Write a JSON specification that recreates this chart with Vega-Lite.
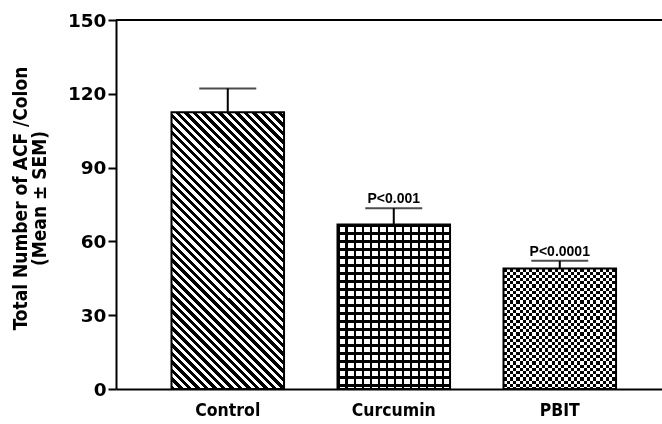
{
"$schema":"https://vega.github.io/schema/vega-lite/v6.json",
"width":546,"height":369,
"autosize":"none",
"padding":{"left":116,"top":20,"right":0,"bottom":35},
"background":"white",
"config":{"view":{"stroke":null}},
"data":{"values":[
{"group":"Control","mean":112.5,"upper":122.2,"p":""},
{"group":"Curcumin","mean":66.9,"upper":73.5,"p":"P<0.001"},
{"group":"PBIT","mean":49,"upper":52.1,"p":"P<0.0001"}
]},
"encoding":{
"y":{"field":"mean","type":"quantitative","scale":{"domain":[0,150],"nice":false},
"axis":{"values":[0,30,60,90,120,150],"title":["Total Number of ACF /Colon","(Mean ± SEM)"],"grid":false,"domainColor":"#000","domainWidth":2,"tickColor":"#000","tickWidth":2,"tickSize":8,"labelFont":"DejaVu Sans","labelFontWeight":"bold","labelFontSize":18.5,"labelColor":"#000","labelPadding":2,"titleFont":"DejaVu Sans Condensed","titleFontWeight":"bold","titleFontSize":19,"titleColor":"#000","titleLineHeight":19,"titleX":-86,"titleY":178}}
},
"layer":[
{
"encoding":{
"x":{"field":"group","type":"nominal","sort":null,"scale":{"paddingInner":0.322,"paddingOuter":0.3055,"align":0.547},
"axis":{"title":null,"labelAngle":0,"ticks":false,"domainColor":"#000","domainWidth":2,"labelFont":"DejaVu Sans Condensed","labelFontWeight":"bold","labelFontSize":17.5,"labelColor":"#000","labelPadding":12}}
},
"layer":[
{"transform":[{"filter":"datum.group==='Control'"}],
"mark":{"type":"bar","stroke":null,"fill":{"gradient":"linear","x1":0,"y1":1,"x2":0.5348,"y2":-0.3156,"stops":[
{"offset":0,"color":"black"},{"offset":0.01,"color":"black"},{"offset":0.01,"color":"white"},{"offset":0.02,"color":"white"},
{"offset":0.02,"color":"black"},{"offset":0.03,"color":"black"},{"offset":0.03,"color":"white"},{"offset":0.04,"color":"white"},
{"offset":0.04,"color":"black"},{"offset":0.05,"color":"black"},{"offset":0.05,"color":"white"},{"offset":0.06,"color":"white"},
{"offset":0.06,"color":"black"},{"offset":0.07,"color":"black"},{"offset":0.07,"color":"white"},{"offset":0.08,"color":"white"},
{"offset":0.08,"color":"black"},{"offset":0.09,"color":"black"},{"offset":0.09,"color":"white"},{"offset":0.1,"color":"white"},
{"offset":0.1,"color":"black"},{"offset":0.11,"color":"black"},{"offset":0.11,"color":"white"},{"offset":0.12,"color":"white"},
{"offset":0.12,"color":"black"},{"offset":0.13,"color":"black"},{"offset":0.13,"color":"white"},{"offset":0.14,"color":"white"},
{"offset":0.14,"color":"black"},{"offset":0.15,"color":"black"},{"offset":0.15,"color":"white"},{"offset":0.16,"color":"white"},
{"offset":0.16,"color":"black"},{"offset":0.17,"color":"black"},{"offset":0.17,"color":"white"},{"offset":0.18,"color":"white"},
{"offset":0.18,"color":"black"},{"offset":0.19,"color":"black"},{"offset":0.19,"color":"white"},{"offset":0.2,"color":"white"},
{"offset":0.2,"color":"black"},{"offset":0.21,"color":"black"},{"offset":0.21,"color":"white"},{"offset":0.22,"color":"white"},
{"offset":0.22,"color":"black"},{"offset":0.23,"color":"black"},{"offset":0.23,"color":"white"},{"offset":0.24,"color":"white"},
{"offset":0.24,"color":"black"},{"offset":0.25,"color":"black"},{"offset":0.25,"color":"white"},{"offset":0.26,"color":"white"},
{"offset":0.26,"color":"black"},{"offset":0.27,"color":"black"},{"offset":0.27,"color":"white"},{"offset":0.28,"color":"white"},
{"offset":0.28,"color":"black"},{"offset":0.29,"color":"black"},{"offset":0.29,"color":"white"},{"offset":0.3,"color":"white"},
{"offset":0.3,"color":"black"},{"offset":0.31,"color":"black"},{"offset":0.31,"color":"white"},{"offset":0.32,"color":"white"},
{"offset":0.32,"color":"black"},{"offset":0.33,"color":"black"},{"offset":0.33,"color":"white"},{"offset":0.34,"color":"white"},
{"offset":0.34,"color":"black"},{"offset":0.35,"color":"black"},{"offset":0.35,"color":"white"},{"offset":0.36,"color":"white"},
{"offset":0.36,"color":"black"},{"offset":0.37,"color":"black"},{"offset":0.37,"color":"white"},{"offset":0.38,"color":"white"},
{"offset":0.38,"color":"black"},{"offset":0.39,"color":"black"},{"offset":0.39,"color":"white"},{"offset":0.4,"color":"white"},
{"offset":0.4,"color":"black"},{"offset":0.41,"color":"black"},{"offset":0.41,"color":"white"},{"offset":0.42,"color":"white"},
{"offset":0.42,"color":"black"},{"offset":0.43,"color":"black"},{"offset":0.43,"color":"white"},{"offset":0.44,"color":"white"},
{"offset":0.44,"color":"black"},{"offset":0.45,"color":"black"},{"offset":0.45,"color":"white"},{"offset":0.46,"color":"white"},
{"offset":0.46,"color":"black"},{"offset":0.47,"color":"black"},{"offset":0.47,"color":"white"},{"offset":0.48,"color":"white"},
{"offset":0.48,"color":"black"},{"offset":0.49,"color":"black"},{"offset":0.49,"color":"white"},{"offset":0.5,"color":"white"},
{"offset":0.5,"color":"black"},{"offset":0.51,"color":"black"},{"offset":0.51,"color":"white"},{"offset":0.52,"color":"white"},
{"offset":0.52,"color":"black"},{"offset":0.53,"color":"black"},{"offset":0.53,"color":"white"},{"offset":0.54,"color":"white"},
{"offset":0.54,"color":"black"},{"offset":0.55,"color":"black"},{"offset":0.55,"color":"white"},{"offset":0.56,"color":"white"},
{"offset":0.56,"color":"black"},{"offset":0.57,"color":"black"},{"offset":0.57,"color":"white"},{"offset":0.58,"color":"white"},
{"offset":0.58,"color":"black"},{"offset":0.59,"color":"black"},{"offset":0.59,"color":"white"},{"offset":0.6,"color":"white"},
{"offset":0.6,"color":"black"},{"offset":0.61,"color":"black"},{"offset":0.61,"color":"white"},{"offset":0.62,"color":"white"},
{"offset":0.62,"color":"black"},{"offset":0.63,"color":"black"},{"offset":0.63,"color":"white"},{"offset":0.64,"color":"white"},
{"offset":0.64,"color":"black"},{"offset":0.65,"color":"black"},{"offset":0.65,"color":"white"},{"offset":0.66,"color":"white"},
{"offset":0.66,"color":"black"},{"offset":0.67,"color":"black"},{"offset":0.67,"color":"white"},{"offset":0.68,"color":"white"},
{"offset":0.68,"color":"black"},{"offset":0.69,"color":"black"},{"offset":0.69,"color":"white"},{"offset":0.7,"color":"white"},
{"offset":0.7,"color":"black"},{"offset":0.71,"color":"black"},{"offset":0.71,"color":"white"},{"offset":0.72,"color":"white"},
{"offset":0.72,"color":"black"},{"offset":0.73,"color":"black"},{"offset":0.73,"color":"white"},{"offset":0.74,"color":"white"},
{"offset":0.74,"color":"black"},{"offset":0.75,"color":"black"},{"offset":0.75,"color":"white"},{"offset":0.76,"color":"white"},
{"offset":0.76,"color":"black"},{"offset":0.77,"color":"black"},{"offset":0.77,"color":"white"},{"offset":0.78,"color":"white"},
{"offset":0.78,"color":"black"},{"offset":0.79,"color":"black"},{"offset":0.79,"color":"white"},{"offset":0.8,"color":"white"},
{"offset":0.8,"color":"black"},{"offset":0.81,"color":"black"},{"offset":0.81,"color":"white"},{"offset":0.82,"color":"white"},
{"offset":0.82,"color":"black"},{"offset":0.83,"color":"black"},{"offset":0.83,"color":"white"},{"offset":0.84,"color":"white"},
{"offset":0.84,"color":"black"},{"offset":0.85,"color":"black"},{"offset":0.85,"color":"white"},{"offset":0.86,"color":"white"},
{"offset":0.86,"color":"black"},{"offset":0.87,"color":"black"},{"offset":0.87,"color":"white"},{"offset":0.88,"color":"white"},
{"offset":0.88,"color":"black"},{"offset":0.89,"color":"black"},{"offset":0.89,"color":"white"},{"offset":0.9,"color":"white"},
{"offset":0.9,"color":"black"},{"offset":0.91,"color":"black"},{"offset":0.91,"color":"white"},{"offset":0.92,"color":"white"},
{"offset":0.92,"color":"black"},{"offset":0.93,"color":"black"},{"offset":0.93,"color":"white"},{"offset":0.94,"color":"white"},
{"offset":0.94,"color":"black"},{"offset":0.95,"color":"black"},{"offset":0.95,"color":"white"},{"offset":0.96,"color":"white"},
{"offset":0.96,"color":"black"},{"offset":0.97,"color":"black"},{"offset":0.97,"color":"white"},{"offset":0.98,"color":"white"},
{"offset":0.98,"color":"black"},{"offset":0.99,"color":"black"},{"offset":0.99,"color":"white"},{"offset":1,"color":"white"}
]}}},
{"transform":[{"filter":"datum.group==='Curcumin'"}],
"mark":{"type":"bar","stroke":null,"fill":{"gradient":"linear","x1":0,"y1":0,"x2":1.778,"y2":0,"stops":[
{"offset":0,"color":"black"},{"offset":0.014,"color":"black"},{"offset":0.014,"color":"white"},{"offset":0.04,"color":"white"},
{"offset":0.04,"color":"black"},{"offset":0.054,"color":"black"},{"offset":0.054,"color":"white"},{"offset":0.08,"color":"white"},
{"offset":0.08,"color":"black"},{"offset":0.094,"color":"black"},{"offset":0.094,"color":"white"},{"offset":0.12,"color":"white"},
{"offset":0.12,"color":"black"},{"offset":0.134,"color":"black"},{"offset":0.134,"color":"white"},{"offset":0.16,"color":"white"},
{"offset":0.16,"color":"black"},{"offset":0.174,"color":"black"},{"offset":0.174,"color":"white"},{"offset":0.2,"color":"white"},
{"offset":0.2,"color":"black"},{"offset":0.214,"color":"black"},{"offset":0.214,"color":"white"},{"offset":0.24,"color":"white"},
{"offset":0.24,"color":"black"},{"offset":0.254,"color":"black"},{"offset":0.254,"color":"white"},{"offset":0.28,"color":"white"},
{"offset":0.28,"color":"black"},{"offset":0.294,"color":"black"},{"offset":0.294,"color":"white"},{"offset":0.32,"color":"white"},
{"offset":0.32,"color":"black"},{"offset":0.334,"color":"black"},{"offset":0.334,"color":"white"},{"offset":0.36,"color":"white"},
{"offset":0.36,"color":"black"},{"offset":0.374,"color":"black"},{"offset":0.374,"color":"white"},{"offset":0.4,"color":"white"},
{"offset":0.4,"color":"black"},{"offset":0.414,"color":"black"},{"offset":0.414,"color":"white"},{"offset":0.44,"color":"white"},
{"offset":0.44,"color":"black"},{"offset":0.454,"color":"black"},{"offset":0.454,"color":"white"},{"offset":0.48,"color":"white"},
{"offset":0.48,"color":"black"},{"offset":0.494,"color":"black"},{"offset":0.494,"color":"white"},{"offset":0.52,"color":"white"},
{"offset":0.52,"color":"black"},{"offset":0.534,"color":"black"},{"offset":0.534,"color":"white"},{"offset":0.56,"color":"white"},
{"offset":0.56,"color":"black"},{"offset":0.574,"color":"black"},{"offset":0.574,"color":"white"},{"offset":0.6,"color":"white"},
{"offset":0.6,"color":"black"},{"offset":0.614,"color":"black"},{"offset":0.614,"color":"white"},{"offset":0.64,"color":"white"},
{"offset":0.64,"color":"black"},{"offset":0.654,"color":"black"},{"offset":0.654,"color":"white"},{"offset":0.68,"color":"white"},
{"offset":0.68,"color":"black"},{"offset":0.694,"color":"black"},{"offset":0.694,"color":"white"},{"offset":0.72,"color":"white"},
{"offset":0.72,"color":"black"},{"offset":0.734,"color":"black"},{"offset":0.734,"color":"white"},{"offset":0.76,"color":"white"},
{"offset":0.76,"color":"black"},{"offset":0.774,"color":"black"},{"offset":0.774,"color":"white"},{"offset":0.8,"color":"white"},
{"offset":0.8,"color":"black"},{"offset":0.814,"color":"black"},{"offset":0.814,"color":"white"},{"offset":0.84,"color":"white"},
{"offset":0.84,"color":"black"},{"offset":0.854,"color":"black"},{"offset":0.854,"color":"white"},{"offset":0.88,"color":"white"},
{"offset":0.88,"color":"black"},{"offset":0.894,"color":"black"},{"offset":0.894,"color":"white"},{"offset":0.92,"color":"white"},
{"offset":0.92,"color":"black"},{"offset":0.934,"color":"black"},{"offset":0.934,"color":"white"},{"offset":0.96,"color":"white"},
{"offset":0.96,"color":"black"},{"offset":0.974,"color":"black"},{"offset":0.974,"color":"white"},{"offset":1,"color":"white"}
]}}},
{"transform":[{"filter":"datum.group==='Curcumin'"}],
"mark":{"type":"bar","stroke":null,"blend":"multiply","fill":{"gradient":"linear","x1":0,"y1":0,"x2":0,"y2":1.215,"stops":[
{"offset":0,"color":"black"},{"offset":0.014,"color":"black"},{"offset":0.014,"color":"white"},{"offset":0.04,"color":"white"},
{"offset":0.04,"color":"black"},{"offset":0.054,"color":"black"},{"offset":0.054,"color":"white"},{"offset":0.08,"color":"white"},
{"offset":0.08,"color":"black"},{"offset":0.094,"color":"black"},{"offset":0.094,"color":"white"},{"offset":0.12,"color":"white"},
{"offset":0.12,"color":"black"},{"offset":0.134,"color":"black"},{"offset":0.134,"color":"white"},{"offset":0.16,"color":"white"},
{"offset":0.16,"color":"black"},{"offset":0.174,"color":"black"},{"offset":0.174,"color":"white"},{"offset":0.2,"color":"white"},
{"offset":0.2,"color":"black"},{"offset":0.214,"color":"black"},{"offset":0.214,"color":"white"},{"offset":0.24,"color":"white"},
{"offset":0.24,"color":"black"},{"offset":0.254,"color":"black"},{"offset":0.254,"color":"white"},{"offset":0.28,"color":"white"},
{"offset":0.28,"color":"black"},{"offset":0.294,"color":"black"},{"offset":0.294,"color":"white"},{"offset":0.32,"color":"white"},
{"offset":0.32,"color":"black"},{"offset":0.334,"color":"black"},{"offset":0.334,"color":"white"},{"offset":0.36,"color":"white"},
{"offset":0.36,"color":"black"},{"offset":0.374,"color":"black"},{"offset":0.374,"color":"white"},{"offset":0.4,"color":"white"},
{"offset":0.4,"color":"black"},{"offset":0.414,"color":"black"},{"offset":0.414,"color":"white"},{"offset":0.44,"color":"white"},
{"offset":0.44,"color":"black"},{"offset":0.454,"color":"black"},{"offset":0.454,"color":"white"},{"offset":0.48,"color":"white"},
{"offset":0.48,"color":"black"},{"offset":0.494,"color":"black"},{"offset":0.494,"color":"white"},{"offset":0.52,"color":"white"},
{"offset":0.52,"color":"black"},{"offset":0.534,"color":"black"},{"offset":0.534,"color":"white"},{"offset":0.56,"color":"white"},
{"offset":0.56,"color":"black"},{"offset":0.574,"color":"black"},{"offset":0.574,"color":"white"},{"offset":0.6,"color":"white"},
{"offset":0.6,"color":"black"},{"offset":0.614,"color":"black"},{"offset":0.614,"color":"white"},{"offset":0.64,"color":"white"},
{"offset":0.64,"color":"black"},{"offset":0.654,"color":"black"},{"offset":0.654,"color":"white"},{"offset":0.68,"color":"white"},
{"offset":0.68,"color":"black"},{"offset":0.694,"color":"black"},{"offset":0.694,"color":"white"},{"offset":0.72,"color":"white"},
{"offset":0.72,"color":"black"},{"offset":0.734,"color":"black"},{"offset":0.734,"color":"white"},{"offset":0.76,"color":"white"},
{"offset":0.76,"color":"black"},{"offset":0.774,"color":"black"},{"offset":0.774,"color":"white"},{"offset":0.8,"color":"white"},
{"offset":0.8,"color":"black"},{"offset":0.814,"color":"black"},{"offset":0.814,"color":"white"},{"offset":0.84,"color":"white"},
{"offset":0.84,"color":"black"},{"offset":0.854,"color":"black"},{"offset":0.854,"color":"white"},{"offset":0.88,"color":"white"},
{"offset":0.88,"color":"black"},{"offset":0.894,"color":"black"},{"offset":0.894,"color":"white"},{"offset":0.92,"color":"white"},
{"offset":0.92,"color":"black"},{"offset":0.934,"color":"black"},{"offset":0.934,"color":"white"},{"offset":0.96,"color":"white"},
{"offset":0.96,"color":"black"},{"offset":0.974,"color":"black"},{"offset":0.974,"color":"white"},{"offset":1,"color":"white"}
]}}},
{"transform":[{"filter":"datum.group==='PBIT'"}],
"mark":{"type":"bar","stroke":null,"fill":{"gradient":"linear","x1":0,"y1":0,"x2":2.844,"y2":0,"stops":[
{"offset":0,"color":"black"},{"offset":0.01,"color":"black"},{"offset":0.01,"color":"white"},{"offset":0.02,"color":"white"},
{"offset":0.02,"color":"black"},{"offset":0.03,"color":"black"},{"offset":0.03,"color":"white"},{"offset":0.04,"color":"white"},
{"offset":0.04,"color":"black"},{"offset":0.05,"color":"black"},{"offset":0.05,"color":"white"},{"offset":0.06,"color":"white"},
{"offset":0.06,"color":"black"},{"offset":0.07,"color":"black"},{"offset":0.07,"color":"white"},{"offset":0.08,"color":"white"},
{"offset":0.08,"color":"black"},{"offset":0.09,"color":"black"},{"offset":0.09,"color":"white"},{"offset":0.1,"color":"white"},
{"offset":0.1,"color":"black"},{"offset":0.11,"color":"black"},{"offset":0.11,"color":"white"},{"offset":0.12,"color":"white"},
{"offset":0.12,"color":"black"},{"offset":0.13,"color":"black"},{"offset":0.13,"color":"white"},{"offset":0.14,"color":"white"},
{"offset":0.14,"color":"black"},{"offset":0.15,"color":"black"},{"offset":0.15,"color":"white"},{"offset":0.16,"color":"white"},
{"offset":0.16,"color":"black"},{"offset":0.17,"color":"black"},{"offset":0.17,"color":"white"},{"offset":0.18,"color":"white"},
{"offset":0.18,"color":"black"},{"offset":0.19,"color":"black"},{"offset":0.19,"color":"white"},{"offset":0.2,"color":"white"},
{"offset":0.2,"color":"black"},{"offset":0.21,"color":"black"},{"offset":0.21,"color":"white"},{"offset":0.22,"color":"white"},
{"offset":0.22,"color":"black"},{"offset":0.23,"color":"black"},{"offset":0.23,"color":"white"},{"offset":0.24,"color":"white"},
{"offset":0.24,"color":"black"},{"offset":0.25,"color":"black"},{"offset":0.25,"color":"white"},{"offset":0.26,"color":"white"},
{"offset":0.26,"color":"black"},{"offset":0.27,"color":"black"},{"offset":0.27,"color":"white"},{"offset":0.28,"color":"white"},
{"offset":0.28,"color":"black"},{"offset":0.29,"color":"black"},{"offset":0.29,"color":"white"},{"offset":0.3,"color":"white"},
{"offset":0.3,"color":"black"},{"offset":0.31,"color":"black"},{"offset":0.31,"color":"white"},{"offset":0.32,"color":"white"},
{"offset":0.32,"color":"black"},{"offset":0.33,"color":"black"},{"offset":0.33,"color":"white"},{"offset":0.34,"color":"white"},
{"offset":0.34,"color":"black"},{"offset":0.35,"color":"black"},{"offset":0.35,"color":"white"},{"offset":0.36,"color":"white"},
{"offset":0.36,"color":"black"},{"offset":0.37,"color":"black"},{"offset":0.37,"color":"white"},{"offset":0.38,"color":"white"},
{"offset":0.38,"color":"black"},{"offset":0.39,"color":"black"},{"offset":0.39,"color":"white"},{"offset":0.4,"color":"white"},
{"offset":0.4,"color":"black"},{"offset":0.41,"color":"black"},{"offset":0.41,"color":"white"},{"offset":0.42,"color":"white"},
{"offset":0.42,"color":"black"},{"offset":0.43,"color":"black"},{"offset":0.43,"color":"white"},{"offset":0.44,"color":"white"},
{"offset":0.44,"color":"black"},{"offset":0.45,"color":"black"},{"offset":0.45,"color":"white"},{"offset":0.46,"color":"white"},
{"offset":0.46,"color":"black"},{"offset":0.47,"color":"black"},{"offset":0.47,"color":"white"},{"offset":0.48,"color":"white"},
{"offset":0.48,"color":"black"},{"offset":0.49,"color":"black"},{"offset":0.49,"color":"white"},{"offset":0.5,"color":"white"},
{"offset":0.5,"color":"black"},{"offset":0.51,"color":"black"},{"offset":0.51,"color":"white"},{"offset":0.52,"color":"white"},
{"offset":0.52,"color":"black"},{"offset":0.53,"color":"black"},{"offset":0.53,"color":"white"},{"offset":0.54,"color":"white"},
{"offset":0.54,"color":"black"},{"offset":0.55,"color":"black"},{"offset":0.55,"color":"white"},{"offset":0.56,"color":"white"},
{"offset":0.56,"color":"black"},{"offset":0.57,"color":"black"},{"offset":0.57,"color":"white"},{"offset":0.58,"color":"white"},
{"offset":0.58,"color":"black"},{"offset":0.59,"color":"black"},{"offset":0.59,"color":"white"},{"offset":0.6,"color":"white"},
{"offset":0.6,"color":"black"},{"offset":0.61,"color":"black"},{"offset":0.61,"color":"white"},{"offset":0.62,"color":"white"},
{"offset":0.62,"color":"black"},{"offset":0.63,"color":"black"},{"offset":0.63,"color":"white"},{"offset":0.64,"color":"white"},
{"offset":0.64,"color":"black"},{"offset":0.65,"color":"black"},{"offset":0.65,"color":"white"},{"offset":0.66,"color":"white"},
{"offset":0.66,"color":"black"},{"offset":0.67,"color":"black"},{"offset":0.67,"color":"white"},{"offset":0.68,"color":"white"},
{"offset":0.68,"color":"black"},{"offset":0.69,"color":"black"},{"offset":0.69,"color":"white"},{"offset":0.7,"color":"white"},
{"offset":0.7,"color":"black"},{"offset":0.71,"color":"black"},{"offset":0.71,"color":"white"},{"offset":0.72,"color":"white"},
{"offset":0.72,"color":"black"},{"offset":0.73,"color":"black"},{"offset":0.73,"color":"white"},{"offset":0.74,"color":"white"},
{"offset":0.74,"color":"black"},{"offset":0.75,"color":"black"},{"offset":0.75,"color":"white"},{"offset":0.76,"color":"white"},
{"offset":0.76,"color":"black"},{"offset":0.77,"color":"black"},{"offset":0.77,"color":"white"},{"offset":0.78,"color":"white"},
{"offset":0.78,"color":"black"},{"offset":0.79,"color":"black"},{"offset":0.79,"color":"white"},{"offset":0.8,"color":"white"},
{"offset":0.8,"color":"black"},{"offset":0.81,"color":"black"},{"offset":0.81,"color":"white"},{"offset":0.82,"color":"white"},
{"offset":0.82,"color":"black"},{"offset":0.83,"color":"black"},{"offset":0.83,"color":"white"},{"offset":0.84,"color":"white"},
{"offset":0.84,"color":"black"},{"offset":0.85,"color":"black"},{"offset":0.85,"color":"white"},{"offset":0.86,"color":"white"},
{"offset":0.86,"color":"black"},{"offset":0.87,"color":"black"},{"offset":0.87,"color":"white"},{"offset":0.88,"color":"white"},
{"offset":0.88,"color":"black"},{"offset":0.89,"color":"black"},{"offset":0.89,"color":"white"},{"offset":0.9,"color":"white"},
{"offset":0.9,"color":"black"},{"offset":0.91,"color":"black"},{"offset":0.91,"color":"white"},{"offset":0.92,"color":"white"},
{"offset":0.92,"color":"black"},{"offset":0.93,"color":"black"},{"offset":0.93,"color":"white"},{"offset":0.94,"color":"white"},
{"offset":0.94,"color":"black"},{"offset":0.95,"color":"black"},{"offset":0.95,"color":"white"},{"offset":0.96,"color":"white"},
{"offset":0.96,"color":"black"},{"offset":0.97,"color":"black"},{"offset":0.97,"color":"white"},{"offset":0.98,"color":"white"},
{"offset":0.98,"color":"black"},{"offset":0.99,"color":"black"},{"offset":0.99,"color":"white"},{"offset":1,"color":"white"}
]}}},
{"transform":[{"filter":"datum.group==='PBIT'"}],
"mark":{"type":"bar","stroke":null,"blend":"difference","fill":{"gradient":"linear","x1":0,"y1":0,"x2":0,"y2":2.656,"stops":[
{"offset":0,"color":"black"},{"offset":0.01,"color":"black"},{"offset":0.01,"color":"white"},{"offset":0.02,"color":"white"},
{"offset":0.02,"color":"black"},{"offset":0.03,"color":"black"},{"offset":0.03,"color":"white"},{"offset":0.04,"color":"white"},
{"offset":0.04,"color":"black"},{"offset":0.05,"color":"black"},{"offset":0.05,"color":"white"},{"offset":0.06,"color":"white"},
{"offset":0.06,"color":"black"},{"offset":0.07,"color":"black"},{"offset":0.07,"color":"white"},{"offset":0.08,"color":"white"},
{"offset":0.08,"color":"black"},{"offset":0.09,"color":"black"},{"offset":0.09,"color":"white"},{"offset":0.1,"color":"white"},
{"offset":0.1,"color":"black"},{"offset":0.11,"color":"black"},{"offset":0.11,"color":"white"},{"offset":0.12,"color":"white"},
{"offset":0.12,"color":"black"},{"offset":0.13,"color":"black"},{"offset":0.13,"color":"white"},{"offset":0.14,"color":"white"},
{"offset":0.14,"color":"black"},{"offset":0.15,"color":"black"},{"offset":0.15,"color":"white"},{"offset":0.16,"color":"white"},
{"offset":0.16,"color":"black"},{"offset":0.17,"color":"black"},{"offset":0.17,"color":"white"},{"offset":0.18,"color":"white"},
{"offset":0.18,"color":"black"},{"offset":0.19,"color":"black"},{"offset":0.19,"color":"white"},{"offset":0.2,"color":"white"},
{"offset":0.2,"color":"black"},{"offset":0.21,"color":"black"},{"offset":0.21,"color":"white"},{"offset":0.22,"color":"white"},
{"offset":0.22,"color":"black"},{"offset":0.23,"color":"black"},{"offset":0.23,"color":"white"},{"offset":0.24,"color":"white"},
{"offset":0.24,"color":"black"},{"offset":0.25,"color":"black"},{"offset":0.25,"color":"white"},{"offset":0.26,"color":"white"},
{"offset":0.26,"color":"black"},{"offset":0.27,"color":"black"},{"offset":0.27,"color":"white"},{"offset":0.28,"color":"white"},
{"offset":0.28,"color":"black"},{"offset":0.29,"color":"black"},{"offset":0.29,"color":"white"},{"offset":0.3,"color":"white"},
{"offset":0.3,"color":"black"},{"offset":0.31,"color":"black"},{"offset":0.31,"color":"white"},{"offset":0.32,"color":"white"},
{"offset":0.32,"color":"black"},{"offset":0.33,"color":"black"},{"offset":0.33,"color":"white"},{"offset":0.34,"color":"white"},
{"offset":0.34,"color":"black"},{"offset":0.35,"color":"black"},{"offset":0.35,"color":"white"},{"offset":0.36,"color":"white"},
{"offset":0.36,"color":"black"},{"offset":0.37,"color":"black"},{"offset":0.37,"color":"white"},{"offset":0.38,"color":"white"},
{"offset":0.38,"color":"black"},{"offset":0.39,"color":"black"},{"offset":0.39,"color":"white"},{"offset":0.4,"color":"white"},
{"offset":0.4,"color":"black"},{"offset":0.41,"color":"black"},{"offset":0.41,"color":"white"},{"offset":0.42,"color":"white"},
{"offset":0.42,"color":"black"},{"offset":0.43,"color":"black"},{"offset":0.43,"color":"white"},{"offset":0.44,"color":"white"},
{"offset":0.44,"color":"black"},{"offset":0.45,"color":"black"},{"offset":0.45,"color":"white"},{"offset":0.46,"color":"white"},
{"offset":0.46,"color":"black"},{"offset":0.47,"color":"black"},{"offset":0.47,"color":"white"},{"offset":0.48,"color":"white"},
{"offset":0.48,"color":"black"},{"offset":0.49,"color":"black"},{"offset":0.49,"color":"white"},{"offset":0.5,"color":"white"},
{"offset":0.5,"color":"black"},{"offset":0.51,"color":"black"},{"offset":0.51,"color":"white"},{"offset":0.52,"color":"white"},
{"offset":0.52,"color":"black"},{"offset":0.53,"color":"black"},{"offset":0.53,"color":"white"},{"offset":0.54,"color":"white"},
{"offset":0.54,"color":"black"},{"offset":0.55,"color":"black"},{"offset":0.55,"color":"white"},{"offset":0.56,"color":"white"},
{"offset":0.56,"color":"black"},{"offset":0.57,"color":"black"},{"offset":0.57,"color":"white"},{"offset":0.58,"color":"white"},
{"offset":0.58,"color":"black"},{"offset":0.59,"color":"black"},{"offset":0.59,"color":"white"},{"offset":0.6,"color":"white"},
{"offset":0.6,"color":"black"},{"offset":0.61,"color":"black"},{"offset":0.61,"color":"white"},{"offset":0.62,"color":"white"},
{"offset":0.62,"color":"black"},{"offset":0.63,"color":"black"},{"offset":0.63,"color":"white"},{"offset":0.64,"color":"white"},
{"offset":0.64,"color":"black"},{"offset":0.65,"color":"black"},{"offset":0.65,"color":"white"},{"offset":0.66,"color":"white"},
{"offset":0.66,"color":"black"},{"offset":0.67,"color":"black"},{"offset":0.67,"color":"white"},{"offset":0.68,"color":"white"},
{"offset":0.68,"color":"black"},{"offset":0.69,"color":"black"},{"offset":0.69,"color":"white"},{"offset":0.7,"color":"white"},
{"offset":0.7,"color":"black"},{"offset":0.71,"color":"black"},{"offset":0.71,"color":"white"},{"offset":0.72,"color":"white"},
{"offset":0.72,"color":"black"},{"offset":0.73,"color":"black"},{"offset":0.73,"color":"white"},{"offset":0.74,"color":"white"},
{"offset":0.74,"color":"black"},{"offset":0.75,"color":"black"},{"offset":0.75,"color":"white"},{"offset":0.76,"color":"white"},
{"offset":0.76,"color":"black"},{"offset":0.77,"color":"black"},{"offset":0.77,"color":"white"},{"offset":0.78,"color":"white"},
{"offset":0.78,"color":"black"},{"offset":0.79,"color":"black"},{"offset":0.79,"color":"white"},{"offset":0.8,"color":"white"},
{"offset":0.8,"color":"black"},{"offset":0.81,"color":"black"},{"offset":0.81,"color":"white"},{"offset":0.82,"color":"white"},
{"offset":0.82,"color":"black"},{"offset":0.83,"color":"black"},{"offset":0.83,"color":"white"},{"offset":0.84,"color":"white"},
{"offset":0.84,"color":"black"},{"offset":0.85,"color":"black"},{"offset":0.85,"color":"white"},{"offset":0.86,"color":"white"},
{"offset":0.86,"color":"black"},{"offset":0.87,"color":"black"},{"offset":0.87,"color":"white"},{"offset":0.88,"color":"white"},
{"offset":0.88,"color":"black"},{"offset":0.89,"color":"black"},{"offset":0.89,"color":"white"},{"offset":0.9,"color":"white"},
{"offset":0.9,"color":"black"},{"offset":0.91,"color":"black"},{"offset":0.91,"color":"white"},{"offset":0.92,"color":"white"},
{"offset":0.92,"color":"black"},{"offset":0.93,"color":"black"},{"offset":0.93,"color":"white"},{"offset":0.94,"color":"white"},
{"offset":0.94,"color":"black"},{"offset":0.95,"color":"black"},{"offset":0.95,"color":"white"},{"offset":0.96,"color":"white"},
{"offset":0.96,"color":"black"},{"offset":0.97,"color":"black"},{"offset":0.97,"color":"white"},{"offset":0.98,"color":"white"},
{"offset":0.98,"color":"black"},{"offset":0.99,"color":"black"},{"offset":0.99,"color":"white"},{"offset":1,"color":"white"}
]}}},
{"mark":{"type":"bar","fillOpacity":0,"stroke":"#000","strokeWidth":2}},
{"mark":{"type":"rule","color":"#000","strokeWidth":2},"encoding":{"y2":{"field":"upper"}}},
{"mark":{"type":"tick","color":"#000","size":57,"thickness":2},"encoding":{"y":{"field":"upper","type":"quantitative"}}},
{"transform":[{"filter":"datum.p !== ''"}],"mark":{"type":"text","font":"Liberation Sans","fontWeight":"bold","fontSize":14,"baseline":"alphabetic","dy":-5,"color":"#000"},
"encoding":{"y":{"field":"upper","type":"quantitative"},"text":{"field":"p"}}}
]
},
{"mark":{"type":"rule","color":"#000","strokeWidth":2},"encoding":{"y":{"datum":150}}}
]
}
